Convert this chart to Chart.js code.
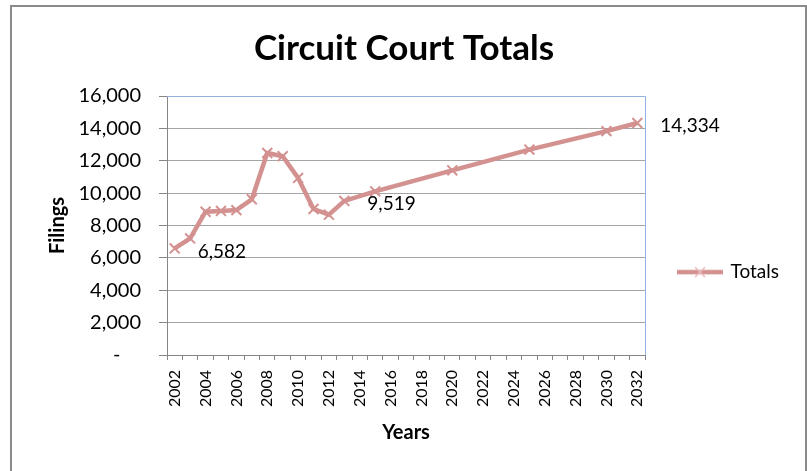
<!DOCTYPE html>
<html>
<head>
<meta charset="utf-8">
<script src="https://cdn.jsdelivr.net/npm/chart.js@4.4.1/dist/chart.umd.min.js"></script>
<style>
  html, body { margin: 0; padding: 0; background: #fff; }
  body { position: relative; width: 807px; height: 471px; overflow: hidden; }
  #cadre { position: absolute; left: 10px; top: 5px; width: 793px; height: 520px; border: 2px solid #8a8a8a; }
  #graphique { position: absolute; left: 0; top: 0; }
</style>
</head>
<body>
<div id="cadre"></div>
<canvas id="graphique" width="807" height="471"></canvas>
<script>
// Données
const annees = ['2002', '2003', '2004', '2005', '2006', '2007', '2008', '2009', '2010', '2011',
                '2012', '2013', '2014', '2015', '2016', '2017', '2018', '2019', '2020', '2021',
                '2022', '2023', '2024', '2025', '2026', '2027', '2028', '2029', '2030', '2031', '2032'];
const totaux = [6582, 7200, 8850, 8900, 8950, 9620, 12480, 12280, 10940, 9020,
                8670, 9519, null, 10110, null, null, null, null, 11410, null,
                null, null, null, 12690, null, null, null, null, 13830, null, 14334];
const anneesEtiquetees = ['2002', '2013', '2032'];
const graduationsY = [0, 2000, 4000, 6000, 8000, 10000, 12000, 14000, 16000];

const rose = '#d39190';
const gris = '#868686';

Chart.defaults.font.family = 'Lato';
Chart.defaults.color = '#000';

// icone de la légende : trait + croix
const iconeLegende = document.createElement('canvas');
iconeLegende.width = 46;
iconeLegende.height = 16;
(function () {
  const c = iconeLegende.getContext('2d');
  c.strokeStyle = rose;
  c.lineWidth = 4.5;
  c.beginPath(); c.moveTo(0, 8); c.lineTo(46, 8); c.stroke();
  c.strokeStyle = '#e7bcbc';
  c.lineWidth = 1.5;
  c.beginPath();
  c.moveTo(18, 3); c.lineTo(28, 13);
  c.moveTo(28, 3); c.lineTo(18, 13);
  c.stroke();
})();

// étiquettes de valeurs à droite de certains points
const etiquettes = {
  id: 'etiquettes',
  afterDatasetsDraw(chart) {
    const ctx = chart.ctx;
    const meta = chart.getDatasetMeta(0);
    ctx.save();
    ctx.font = '19px Lato';
    ctx.fillStyle = '#000';
    ctx.textAlign = 'left';
    ctx.textBaseline = 'middle';
    anneesEtiquetees.forEach(a => {
      const i = annees.indexOf(a);
      const pt = meta.data[i];
      ctx.fillText(totaux[i].toLocaleString('en-US'), pt.x + 23, pt.y + 3);
    });
    ctx.restore();
  }
};

// bordure bleue de la zone de tracé (haut et droite)
const cadreTrace = {
  id: 'cadreTrace',
  beforeDatasetsDraw(chart) {
    const {ctx, chartArea: a} = chart;
    ctx.save();
    ctx.strokeStyle = '#8fb2e0';
    ctx.lineWidth = 1;
    ctx.beginPath();
    ctx.moveTo(a.left, a.top + 0.5);
    ctx.lineTo(a.right + 0.5, a.top + 0.5);
    ctx.lineTo(a.right + 0.5, a.bottom);
    ctx.stroke();
    ctx.restore();
  }
};

new Chart(document.getElementById('graphique'), {
  type: 'line',
  data: {
    labels: annees,
    datasets: [{
      label: 'Totals',
      data: totaux,
      borderColor: rose,
      backgroundColor: rose,
      borderWidth: 4.5,
      pointStyle: 'crossRot',
      pointRadius: 7,
      pointBorderWidth: 2,
      pointBorderColor: rose,
      tension: 0,
      spanGaps: true,
      fill: false
    }]
  },
  options: {
    responsive: false,
    animation: false,
    layout: { padding: { left: 19, right: 18, top: 0, bottom: 0 } },
    plugins: {
      title: {
        display: true,
        text: 'Circuit Court Totals',
        color: '#000',
        font: { size: 35, weight: 'bold' },
        padding: { top: 28, bottom: 26 }
      },
      legend: {
        position: 'right',
        align: 'center',
        title: { display: true, text: ' ', font: { size: 1 }, padding: { top: 0, bottom: 72 } },
        labels: {
          usePointStyle: true,
          pointStyle: iconeLegende,
          pointStyleWidth: 42,
          padding: 34,
          color: '#000',
          font: { size: 19 }
        }
      },
      tooltip: { enabled: false }
    },
    scales: {
      x: {
        offset: true,
        grid: { offset: true, drawOnChartArea: false, tickLength: 5, color: gris },
        border: { color: gris },
        ticks: {
          autoSkip: false,
          maxRotation: 90,
          minRotation: 90,
          padding: 10,
          color: '#000',
          font: { size: 16 },
          callback: (v, i) => (i % 2 === 0 ? annees[i] : '')
        },
        title: {
          display: true,
          text: 'Years',
          color: '#000',
          font: { size: 20, weight: 'bold' },
          padding: { top: 0, bottom: 26 }
        },
        afterFit: s => { s.height = 116; }
      },
      y: {
        min: 0,
        max: 16000,
        afterBuildTicks: s => { s.ticks = graduationsY.map(v => ({ value: v })); },
        ticks: {
          padding: 18,
          color: '#000',
          font: { size: 20 },
          callback: v => (v === 0 ? '-    ' : v.toLocaleString('en-US'))
        },
        grid: {
          color: c => (c.tick && c.tick.value === 16000 ? 'rgba(0,0,0,0)' : '#a5a5a5'),
          tickColor: gris,
          tickLength: 8
        },
        border: { color: gris },
        title: {
          display: true,
          text: 'Filings',
          color: '#000',
          font: { size: 20, weight: 'bold' },
          padding: { top: 27, bottom: 0 }
        },
        afterFit: s => { s.width = 148; }
      }
    }
  },
  plugins: [etiquettes, cadreTrace]
});
</script>
</body>
</html>
